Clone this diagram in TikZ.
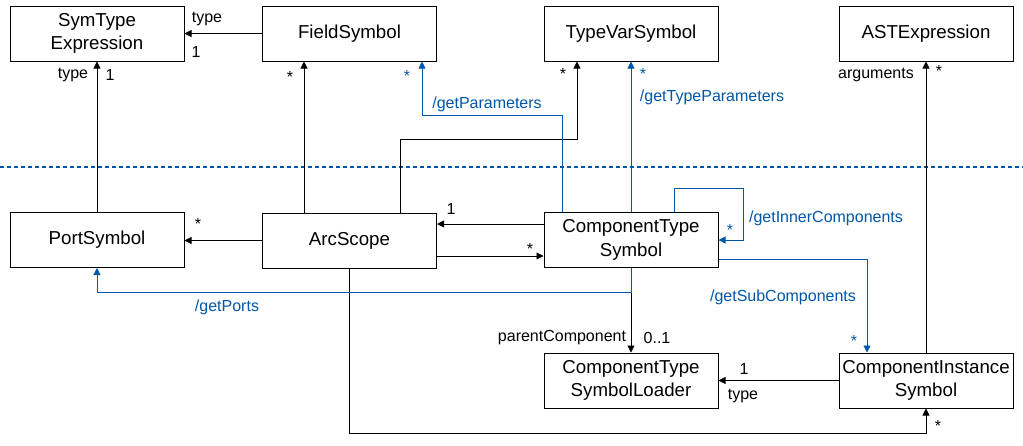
\documentclass[tikz,border=0pt]{standalone}
\usepackage{fontspec}
\setmainfont{Liberation Sans}
\usetikzlibrary{arrows.meta}
\definecolor{linkblue}{RGB}{0,86,168}
\tikzset{
	cls/.style={draw, line width=1pt, minimum width=174pt, minimum height=55pt, inner sep=1pt,
		align=center, font=\fontsize{18.7}{23.5}\selectfont},
	arr/.style={line width=0.8pt, -{Triangle[length=7pt,width=7pt]}},
	lbl/.style={inner sep=0pt, font=\fontsize{16}{18}\selectfont},
	derived/.style={arr, draw=linkblue},
	blbl/.style={lbl, text=linkblue}
}
\begin{document}
\begin{tikzpicture}[x=1pt, y=-1pt]
	\useasboundingbox (0,0) rectangle (1023,445);
	% classes
	\node[cls] (sym) at (97,33.5) {SymType\\Expression};
	\node[cls] (field) at (349.5,33.5) {FieldSymbol};
	\node[cls] (tvar) at (631,33.5) {TypeVarSymbol};
	\node[cls] (ast) at (926,33.5) {ASTExpression};
	\node[cls] (port) at (97,240) {PortSymbol};
	\node[cls] (arc) at (349.5,240.5) {ArcScope};
	\node[cls] (cts) at (631,240) {ComponentType\\Symbol};
	\node[cls] (loader) at (631,380.5) {ComponentType\\SymbolLoader};
	\node[cls] (cis) at (926,380.5) {ComponentInstance\\Symbol};
	% trennlinie
	\draw[linkblue, line width=1.1pt, dash pattern=on 4pt off 3pt] (0,167) -- (1023,167);
	% assoziationen
	\draw[arr] (field.west) -- (sym.east);
	\node[lbl] (l1) at (207,19) {type};
	\node[lbl] (l2) at (196,52) {1};
	\draw[arr] (port.north) -- (sym.south);
	\node[lbl] (l3) at (73,75) {type};
	\node[lbl] (l4) at (110,75) {1};
	\draw[arr] ([xshift=-45.5pt]arc.north) -- ([xshift=-45.5pt]field.south);
	\node[lbl] (l5) at (290,77) {*};
	\draw[arr] ([xshift=50.5pt]arc.north) -- ++(0,-73) -| ([xshift=-54pt]tvar.south);
	\node[lbl] (l6) at (563,74) {*};
	\draw[arr] (cis.north) -- (ast.south);
	\node[lbl] (l7) at (876,75) {arguments};
	\node[lbl] (l8) at (939,71) {*};
	\draw[arr] (arc.west) -- (arc.west -| port.east);
	\node[lbl] (l9) at (198,224) {*};
	\draw[arr] ([yshift=16pt]cts.west) -- ([yshift=16pt]cts.west -| arc.east);
	\node[lbl] (l10) at (451,209) {1};
	\draw[arr] ([yshift=-16pt]cts.west -| arc.east) -- ([yshift=-16pt]cts.west);
	\node[lbl] (l11) at (530,249) {*};
	\draw[arr] (cts.south) -- (loader.north);
	\node[lbl] (l12) at (562,338) {parentComponent};
	\node[lbl] (l13) at (657,338) {0..1};
	\draw[arr] (cis.west) -- (loader.east);
	\node[lbl] (l14) at (744,369) {1};
	\node[lbl] (l15) at (743,396) {type};
	\draw[arr] (arc.south) -- ++(0,165) -| (cis.south);
	\node[lbl] (l16) at (938,426) {*};
	% abgeleitete assoziationen
	\draw[derived] ([xshift=-69pt]cts.north) -- ++(0,-97) -| ([xshift=72.5pt]field.south);
	\node[blbl] (b1) at (407,76) {*};
	\node[blbl] (b2) at (487,104) {/getParameters};
	\draw[derived] (cts.north) -- (tvar.south);
	\node[blbl] (b3) at (643,74) {*};
	\node[blbl] (b4) at (712,97) {/getTypeParameters};
	\draw[derived] ([xshift=43pt]cts.north) -- ++(0,-24) -- ++(69,0) |- (cts.east);
	\node[blbl] (b5) at (730,230) {*};
	\node[blbl] (b6) at (826,218) {/getInnerComponents};
	\draw[derived] (cts.south) -- ++(0,24) -| (port.south);
	\node[blbl] (b7) at (227,307) {/getPorts};
	\draw[derived] ([yshift=-19pt]cts.east) -| ([xshift=-59pt]cis.north);
	\node[blbl] (b8) at (854,341) {*};
	\node[blbl] (b9) at (783,297) {/getSubComponents};
\end{tikzpicture}
\end{document}
